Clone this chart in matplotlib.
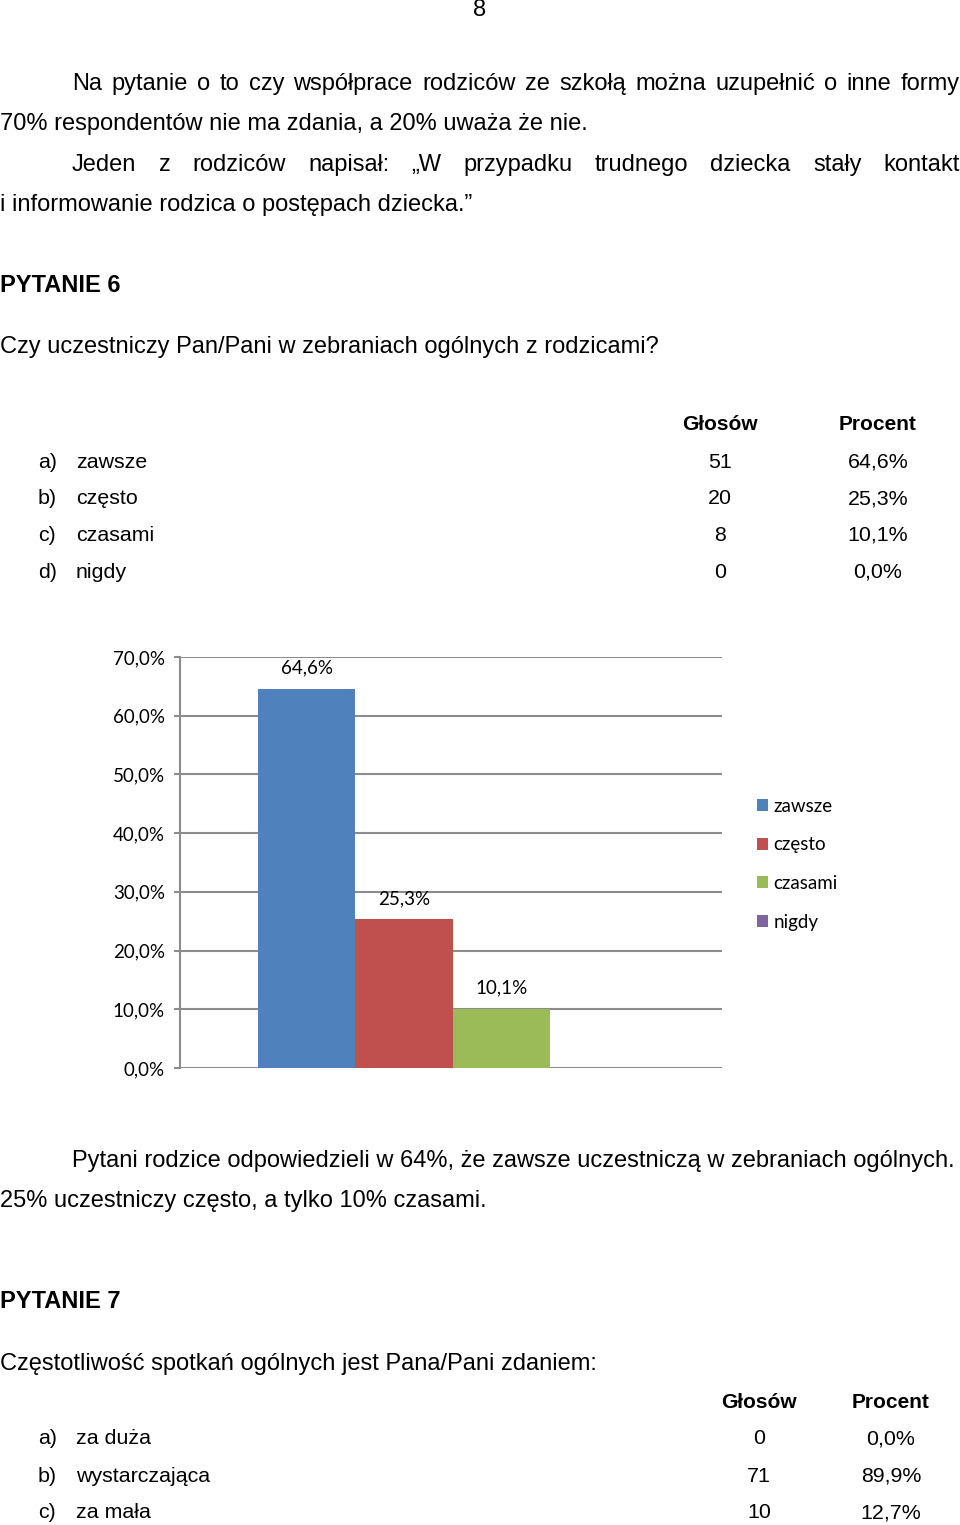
import matplotlib
matplotlib.use("Agg")
import matplotlib.pyplot as plt
import numpy as np

W, H = 960, 1525

# question 6 data
q6_letters = ["a)", "b)", "c)", "d)"]
q6_answers = ["zawsze", "często", "czasami", "nigdy"]
q6_votes = [51, 20, 8, 0]
q6_pct = [64.6, 25.3, 10.1, 0.0]
q6_colors = ["#4F81BD", "#C0504D", "#9BBB59", "#8064A2"]

# question 7 data
q7_letters = ["a)", "b)", "c)"]
q7_answers = ["za duża", "wystarczająca", "za mała"]
q7_votes = [0, 71, 10]
q7_pct = [0.0, 89.9, 12.7]

yticks = [0, 10, 20, 30, 40, 50, 60, 70]

BODY = dict(family="Liberation Sans", fontsize=17, color="black")
TABLE = 15.4
CHART = dict(family="Lato", fontsize=13.5, color="black")

fig = plt.figure(figsize=(W / 100, H / 100), dpi=100)
fig.patch.set_facecolor("white")
renderer = fig.canvas.get_renderer()


def fy(y):
    return 1 - (y + 2) / H


def put(x, y, s, ha="left", **kw):
    opts = dict(BODY)
    opts.update(kw)
    return fig.text(x / W, fy(y), s, ha=ha, va="center", **opts)


def pct(v):
    return f"{v:.1f}%".replace(".", ",")


def justified(line, x0, x1, y):
    words = line.split()
    widths = []
    for w in words:
        t = fig.text(0, 0, w, **BODY)
        widths.append(t.get_window_extent(renderer).width)
        t.remove()
    gap = (x1 - x0 - sum(widths)) / (len(words) - 1)
    x = x0
    for w, wd in zip(words, widths):
        put(x, y, w)
        x += wd + gap


# page text
put(480, 8, "8", ha="center")
justified("Na pytanie o to czy współprace rodziców ze szkołą można uzupełnić o inne formy", 72, 960, 82)
put(0, 122, "70% respondentów nie ma zdania, a 20% uważa że nie.")
justified("Jeden z rodziców napisał: „W przypadku trudnego dziecka stały kontakt", 72, 960, 163)
put(0, 203, "i informowanie rodzica o postępach dziecka.”")
put(0, 283, "PYTANIE 6", weight="bold")
put(0, 345, "Czy uczestniczy Pan/Pani w zebraniach ogólnych z rodzicami?")

put(720, 423, "Głosów", ha="center", weight="bold", fontsize=15)
put(878, 423, "Procent", ha="center", weight="bold", fontsize=15)
for i in range(len(q6_answers)):
    y = 460 + i * 36.7
    put(38, y, q6_letters[i], fontsize=TABLE)
    put(76, y, q6_answers[i], fontsize=TABLE)
    put(720, y, str(q6_votes[i]), ha="center", fontsize=TABLE)
    put(878, y, pct(q6_pct[i]), ha="center", fontsize=TABLE)

# chart
ax = fig.add_axes([180 / W, (H - 1068) / H, (722 - 180) / W, (1068 - 657) / H])
x = np.arange(len(q6_answers))
bars = ax.bar(x, q6_pct, width=1.0, color=q6_colors, label=q6_answers, zorder=3)
ax.set_xlim(-1.3, 4.26)
ax.set_ylim(0, 70)
ax.set_yticks(yticks)
ax.set_yticklabels([pct(v) for v in yticks], **CHART)
ax.set_xticks([])
ax.grid(axis="y", color="#8C8C8C", linewidth=1.5, zorder=0)
for side in ["top", "right", "bottom"]:
    ax.spines[side].set_visible(False)
ax.spines["left"].set_color("#8C8C8C")
ax.spines["left"].set_linewidth(1.5)
ax.tick_params(axis="y", length=4.5, width=1.5, color="#8C8C8C", pad=6.3)
for b, v in zip(bars, q6_pct):
    if v > 0:
        ax.annotate(pct(v), (b.get_x() + b.get_width() / 2, v), xytext=(0, 15),
                    textcoords="offset points", ha="center", va="center", **CHART)
ax.legend(bars, q6_answers, loc="upper left", bbox_to_anchor=(740 / W, 1 - 781 / H),
          bbox_transform=fig.transFigure, frameon=False, prop=dict(family="Lato", size=13.5),
          handlelength=0.6, handleheight=0.6, handletextpad=0.3, labelspacing=1.15)

put(72, 1159, "Pytani rodzice odpowiedzieli w 64%, że zawsze uczestniczą w zebraniach ogólnych.")
put(0, 1199, "25% uczestniczy często, a tylko 10% czasami.")
put(0, 1300, "PYTANIE 7", weight="bold")
put(0, 1362, "Częstotliwość spotkań ogólnych jest Pana/Pani zdaniem:")

put(759, 1400, "Głosów", ha="center", weight="bold", fontsize=15)
put(891, 1400, "Procent", ha="center", weight="bold", fontsize=15)
for i in range(len(q7_answers)):
    y = 1437 + i * 37
    put(38, y, q7_letters[i], fontsize=TABLE)
    put(76, y, q7_answers[i], fontsize=TABLE)
    put(759, y, str(q7_votes[i]), ha="center", fontsize=TABLE)
    put(891, y, pct(q7_pct[i]), ha="center", fontsize=TABLE)

fig.savefig("out.png", dpi=100, facecolor="white")
